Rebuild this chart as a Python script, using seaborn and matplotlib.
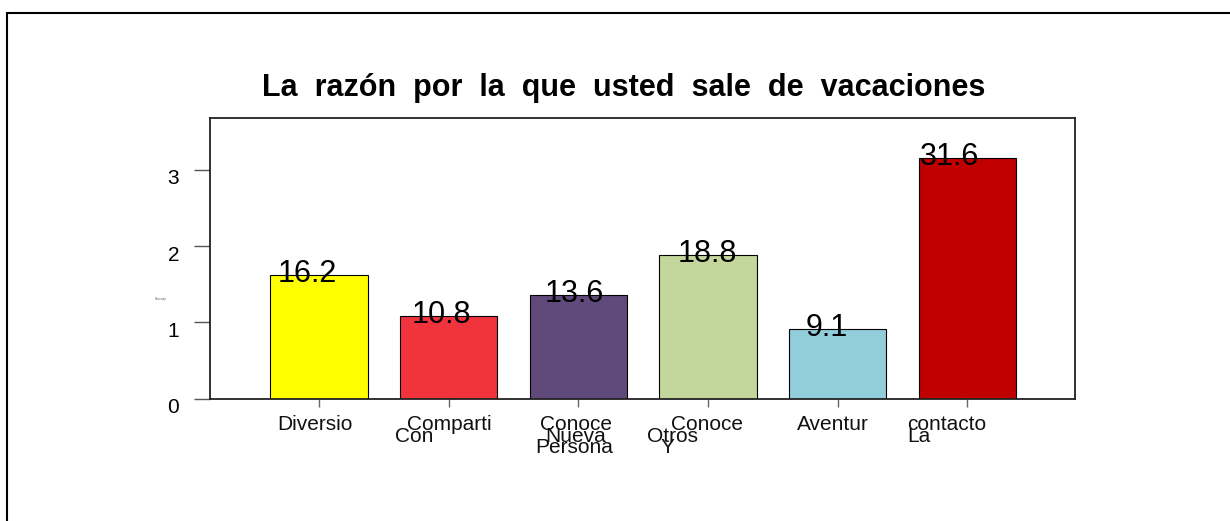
import matplotlib
matplotlib.use("Agg")
import matplotlib.pyplot as plt
import matplotlib.transforms as mtransforms
from matplotlib.patches import Rectangle
import seaborn as sns
import pandas as pd

# ---- data ----
categories = ["Diversio", "Comparti", "Conoce", "Conoce ", "Aventur", "contacto"]
values = [16.2, 10.8, 13.6, 18.8, 9.1, 31.6]
value_labels = ["16.2", "10.8", "13.6", "18.8", "9.1", "31.6"]
label_lines = [["Diversio"], ["Comparti", "Con"], ["Conoce", "Nueva", "Persona"],
               ["Conoce", "Otros", "Y"], ["Aventur"], ["contacto", "La"]]
colors = ["#FFFF00", "#F0333D", "#604A7B", "#C3D69B", "#92CDDC", "#C00000"]
y_ticks = [0, 1, 2, 3]
title = "La razón por la que usted sale de vacaciones"

# ---- layout (pixel offsets) ----
label_dx = [[-4.5], [0.5, -34.5], [-2, -3, -4], [-1.5, -36, -40.5], [-4.5], [-20.5, -48.5]]
line_dy = [-31.3, -43.6, -54.6]
value_dx = [-12, -7, -4.5, -1, -11, -18]

sns.set_theme(style="white")
plt.rcParams["font.family"] = ["Liberation Sans", "DejaVu Sans"]

df = pd.DataFrame({"cat": categories, "val": [v / 10 for v in values]})

fig = plt.figure(figsize=(12.3, 5.21), dpi=100)
ax = fig.add_axes([210 / 1230, 1 - 398.7 / 521, (1075 - 210) / 1230, (398.7 - 118) / 521])

sns.barplot(data=df, x="cat", y="val", hue="cat", palette=colors, legend=False,
            width=0.75, edgecolor="black", linewidth=0.8, saturation=1, ax=ax)

ax.set_xlim(-0.840, 5.829)
ax.set_ylim(0, 3.68)
ax.set_xlabel("")
ax.set_ylabel("")

for s in ax.spines.values():
    s.set_visible(True)
    s.set_color("#222222")
    s.set_linewidth(1.3)

ax.set_yticks(y_ticks)
ax.set_yticklabels([str(t) for t in y_ticks], fontsize=15, color="black")
ax.tick_params(axis="y", which="major", left=True, length=11.5, width=1.0,
               color="#555555", pad=10.8, direction="out")
ax.set_xticks(range(len(categories)))
ax.set_xticklabels([])
ax.tick_params(axis="x", which="major", bottom=True, length=5.5, width=1.0,
               color="#666666", direction="out")
for lbl in ax.get_yticklabels():
    lbl.set_transform(lbl.get_transform() +
                      mtransforms.ScaledTranslation(0, -7 / 100, fig.dpi_scale_trans))

# category labels (multi-line, as in the reference)
for i, lines in enumerate(label_lines):
    for j, line in enumerate(lines):
        tr = ax.get_xaxis_transform() + mtransforms.ScaledTranslation(
            label_dx[i][j] / 100, line_dy[j] / 100, fig.dpi_scale_trans)
        ax.text(i, 0, line, transform=tr, ha="center", va="baseline",
                fontsize=15, color="#111111", clip_on=False)

# value labels at bar tops
for i, (v, lab) in enumerate(zip(values, value_labels)):
    tr = ax.transData + mtransforms.ScaledTranslation(
        value_dx[i] / 100, -7 / 100, fig.dpi_scale_trans)
    ax.text(i, v / 10, lab, transform=tr, ha="center", va="baseline",
            fontsize=22, color="black")

# title: wide word spacing as in the reference
fig.text(623.5 / 1230, 1 - 96 / 521, title.replace(" ", "  "), ha="center",
         va="baseline", fontsize=22, fontweight="bold", color="black")

# tiny y-axis label
fig.text(161 / 1230, 1 - 299 / 521, "Porcentaje", ha="center", va="center",
         fontsize=1.8, color="#555555")

# figure frame
fig.patches.append(Rectangle((7 / 1230, -0.05), 1.2, (508 / 521) + 0.05,
                             transform=fig.transFigure, fill=False,
                             lw=1.5, ec="black"))

fig.savefig("out.png", dpi=100)
